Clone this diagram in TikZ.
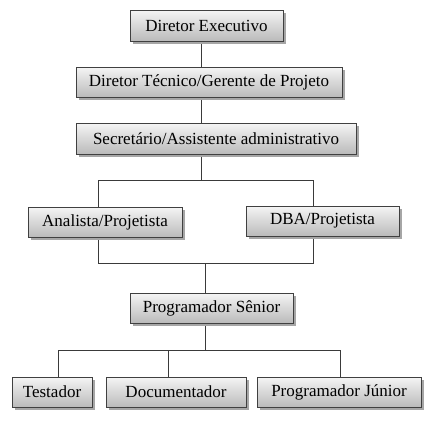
\documentclass[tikz,border=0pt]{standalone}
\usepackage{fontspec}
\setmainfont{Liberation Serif}
\usetikzlibrary{shadows,backgrounds}

\definecolor{borda}{HTML}{404040}
\definecolor{linha}{HTML}{3A3A3A}
\tikzset{
  cargo/.style={draw=borda, line width=0.9pt, top color=black!4, bottom color=black!27,
    drop shadow={shadow xshift=2.5pt, shadow yshift=-2.5pt, fill=black!35, opacity=1},
    minimum height=30pt, inner sep=0pt, font=\fontsize{17}{20}\selectfont},
  liga/.style={draw=linha, line width=0.9pt}
}

\begin{document}
\begin{tikzpicture}[x=1pt,y=1pt]
		\useasboundingbox (0,0) rectangle (433,-424);
		
		% caixas
		\node[cargo, minimum width=153pt, minimum height=31pt] (de) at (206.5,-25.5) {Diretor Executivo};
		\node[cargo, minimum width=266pt] (dt) at (209,-82) {Diretor Técnico/Gerente de Projeto};
		\node[cargo, minimum width=280pt, minimum height=31pt] (sec) at (216,-138.5) {Secretário/Assistente administrativo};
		\node[cargo, minimum width=154pt] (ana) at (105,-222) {Analista/Projetista};
		\node[cargo, minimum width=153pt] (dba) at (322.5,-221) {DBA/Projetista};
		\node[cargo, minimum width=163pt] (ps) at (211.5,-308) {Programador Sênior};
		\node[cargo, minimum width=80pt] (tes) at (52,-392) {Testador};
		\node[cargo, minimum width=140pt] (doc) at (176,-392) {Documentador};
		\node[cargo, minimum width=164pt] (pj) at (339,-392) {Programador Júnior};
		
		\coordinate (eixo) at (201,0);
		\coordinate (topoE) at (98,-180);
		\coordinate (topoD) at (313,-180);
		\coordinate (baseE) at (98,-263);
		\coordinate (baseD) at (313,-263);
		\coordinate (eixoB) at (205,0);
		\coordinate (gT) at (58,-350);
		\coordinate (gD) at (168,-350);
		\coordinate (gP) at (340,-350);
		
		% ligacoes
		\begin{scope}[on background layer]
			\draw[liga] (de.south -| eixo) -- (dt.north -| eixo);
			\draw[liga] (dt.south -| eixo) -- (sec.north -| eixo);
			\draw[liga] (sec.south -| eixo) -- (eixo |- topoE);
			\draw[liga] (ana.north -| topoE) -- (topoE) -- (topoD) -- (dba.north -| topoD);
			\draw[liga] (ana.south -| baseE) -- (baseE) -- (baseD) -- (dba.south -| baseD);
			\draw[liga] (eixoB |- baseE) -- (ps.north -| eixoB);
			\draw[liga] (ps.south -| eixoB) -- (eixoB |- gT);
			\draw[liga] (gT) -- (gP);
			\foreach \n/\g in {tes/gT,doc/gD,pj/gP}
				\draw[liga] (\g) -- (\n.north -| \g);
		\end{scope}
	\end{tikzpicture}
\end{document}
